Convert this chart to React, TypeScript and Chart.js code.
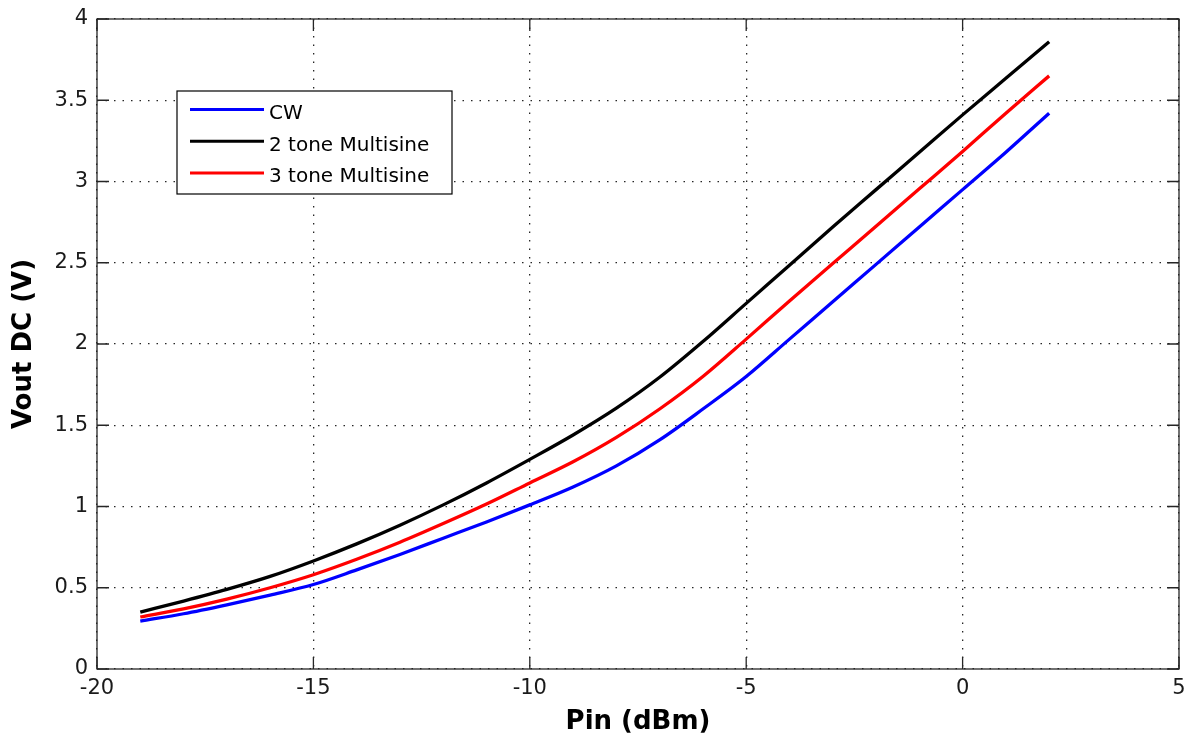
import { useEffect, useRef } from "react";
import { Chart, registerables } from "chart.js";

Chart.register(...registerables);

// ---- data ----
const pinDbm = [-19, -18, -17, -16, -15, -14, -13, -12, -11, -10, -9, -8, -7, -6, -5, -4, -3, -2, -1, 0, 1, 2];
const cwVout = [0.295, 0.34, 0.395, 0.455, 0.52, 0.61, 0.705, 0.805, 0.905, 1.01, 1.12, 1.25, 1.41, 1.6, 1.8, 2.03, 2.26, 2.49, 2.72, 2.95, 3.18, 3.42];
const twoToneVout = [0.35, 0.418, 0.49, 0.57, 0.665, 0.77, 0.885, 1.01, 1.145, 1.29, 1.44, 1.605, 1.795, 2.015, 2.25, 2.485, 2.72, 2.95, 3.18, 3.41, 3.635, 3.86];
const threeToneVout = [0.32, 0.37, 0.43, 0.5, 0.58, 0.675, 0.78, 0.895, 1.015, 1.145, 1.275, 1.425, 1.6, 1.8, 2.03, 2.265, 2.495, 2.725, 2.955, 3.185, 3.42, 3.65];
const seriesLabels = ["CW", "2 tone Multisine", "3 tone Multisine"];
const seriesColors = ["#0000ff", "#000000", "#ff0000"];
const xRange = [-20, 5];
const xStep = 5;
const yRange = [0, 4];
const yStep = 0.5;
const xTitle = "Pin (dBm)";
const yTitle = "Vout DC (V)";

const FONT = "'DejaVu Sans', 'Liberation Sans', Arial, sans-serif";

const frameTicksPlugin = {
  id: "frameTicks",
  afterDraw(chart: any) {
    const { ctx, chartArea, scales } = chart;
    const { left, right, top, bottom } = chartArea;
    const L = 12;
    ctx.save();
    ctx.strokeStyle = "#262626";
    ctx.lineWidth = 1.3;
    ctx.setLineDash([]);
    ctx.strokeRect(left, top, right - left, bottom - top);
    ctx.beginPath();
    scales.x.ticks.forEach((t: any) => {
      const px = scales.x.getPixelForValue(t.value);
      ctx.moveTo(px, bottom);
      ctx.lineTo(px, bottom - L);
      ctx.moveTo(px, top);
      ctx.lineTo(px, top + L);
    });
    scales.y.ticks.forEach((t: any) => {
      const py = scales.y.getPixelForValue(t.value);
      ctx.moveTo(left, py);
      ctx.lineTo(left + L, py);
      ctx.moveTo(right, py);
      ctx.lineTo(right - L, py);
    });
    ctx.stroke();
    ctx.restore();
  },
};

const boxLegendPlugin = {
  id: "boxLegend",
  afterDraw(chart: any) {
    const { ctx, chartArea } = chart;
    const bx = chartArea.left + 80;
    const by = chartArea.top + 72;
    const bw = 275;
    const bh = 103;
    ctx.save();
    ctx.fillStyle = "#ffffff";
    ctx.fillRect(bx, by, bw, bh);
    ctx.strokeStyle = "#000000";
    ctx.lineWidth = 1.2;
    ctx.setLineDash([]);
    ctx.strokeRect(bx, by, bw, bh);
    ctx.font = `20px ${FONT}`;
    ctx.textBaseline = "alphabetic";
    ctx.textAlign = "left";
    chart.data.datasets.forEach((ds: any, i: number) => {
      const ly = by + 18.5 + i * 31.7;
      ctx.strokeStyle = ds.borderColor;
      ctx.lineWidth = 3;
      ctx.beginPath();
      ctx.moveTo(bx + 13, ly);
      ctx.lineTo(bx + 87, ly);
      ctx.stroke();
      ctx.fillStyle = "#000000";
      ctx.fillText(ds.label, bx + 92, ly + 9.5);
    });
    ctx.restore();
  },
};

export default function App() {
  const canvasRef = useRef<HTMLCanvasElement | null>(null);

  useEffect(() => {
    document.body.style.margin = "0";
    const canvas = canvasRef.current;
    if (!canvas) return;
    const seriesValues = [cwVout, twoToneVout, threeToneVout];
    const chart = new Chart(canvas, {
      type: "line",
      data: {
        datasets: seriesValues.map((vals, i) => ({
          label: seriesLabels[i],
          data: pinDbm.map((x, j) => ({ x, y: vals[j] })),
          borderColor: seriesColors[i],
          backgroundColor: seriesColors[i],
          borderWidth: 3.3,
          pointRadius: 0,
          fill: false,
          cubicInterpolationMode: "monotone" as const,
        })),
      },
      options: {
        animation: false,
        responsive: false,
        devicePixelRatio: 1,
        layout: { padding: { left: 0, right: 9, top: 19, bottom: 0 } },
        plugins: {
          legend: { display: false },
          tooltip: { enabled: false },
          title: { display: false },
        },
        scales: {
          x: {
            type: "linear",
            min: xRange[0],
            max: xRange[1],
            ticks: {
              stepSize: xStep,
              color: "#1a1a1a",
              font: { family: FONT, size: 21 },
              padding: 7,
              maxRotation: 0,
              callback: (v: any) => String(v),
            },
            grid: { color: "rgba(0,0,0,0.85)", lineWidth: 1.3, drawTicks: false },
            border: { display: false, dash: [1.5, 7] },
            title: {
              display: true,
              text: xTitle,
              color: "#000000",
              font: { family: FONT, size: 26, weight: "bold" },
              padding: { top: 0, bottom: 3.4 },
            },
            afterFit: (s: any) => {
              s.height = 72;
              s.paddingLeft = 0;
              s.paddingRight = 0;
            },
          },
          y: {
            type: "linear",
            min: yRange[0],
            max: yRange[1],
            ticks: {
              stepSize: yStep,
              color: "#1a1a1a",
              font: { family: FONT, size: 21 },
              padding: 9,
              callback: (v: any) => String(v),
            },
            grid: { color: "rgba(0,0,0,0.85)", lineWidth: 1.3, drawTicks: false },
            border: { display: false, dash: [1.5, 7] },
            title: {
              display: true,
              text: yTitle,
              color: "#000000",
              font: { family: FONT, size: 26, weight: "bold" },
              padding: { top: 9, bottom: 0 },
            },
            afterFit: (s: any) => {
              s.width = 97;
              s.paddingTop = 0;
              s.paddingBottom = 0;
            },
          },
        },
      },
      plugins: [frameTicksPlugin, boxLegendPlugin],
    });
    return () => chart.destroy();
  }, []);

  return (
    <div style={{ position: "absolute", left: 0, top: 0, width: 1188, height: 741, background: "#fff" }}>
      <canvas ref={canvasRef} width={1188} height={741} style={{ display: "block" }} />
    </div>
  );
}
